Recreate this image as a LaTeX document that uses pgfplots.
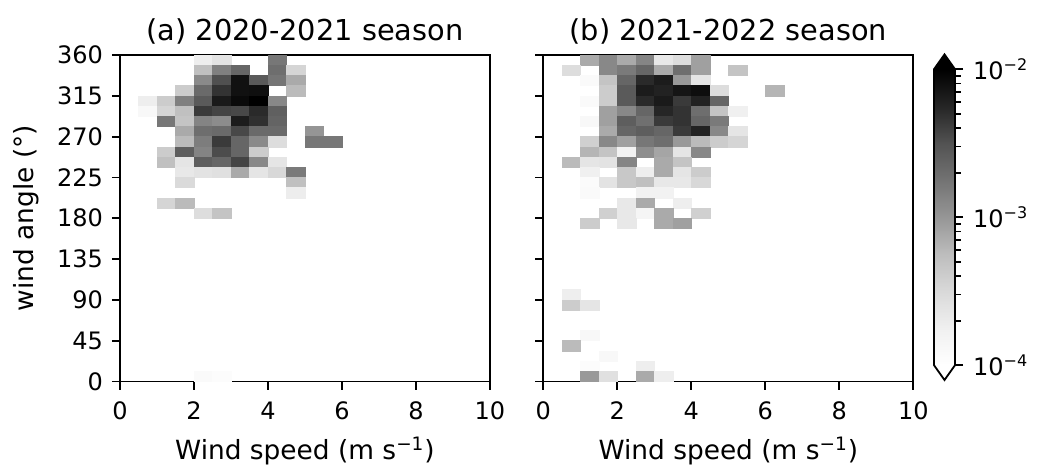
\documentclass[border=0pt]{standalone}
\usepackage{fontspec}
\setmainfont{DejaVu Sans}
\usepackage{pgfplots}
\pgfplotsset{compat=1.18}
\usepackage{pgfplotstable}

\pgfdeclareplotmark{cell}{%
  \pgfpathrectangle{\pgfpoint{-4.625pt}{-2.5508pt}}{\pgfpoint{9.25pt}{5.1016pt}}%
  \pgfusepathqfillstroke}

\definecolor{g0}{RGB}{255,255,255}
\definecolor{g1}{RGB}{240,240,240}
\definecolor{g2}{RGB}{217,217,217}
\definecolor{g3}{RGB}{189,189,189}
\definecolor{g4}{RGB}{150,150,150}
\definecolor{g5}{RGB}{115,115,115}
\definecolor{g6}{RGB}{82,82,82}
\definecolor{g7}{RGB}{37,37,37}
\definecolor{g8}{RGB}{0,0,0}
\pgfdeclareverticalshading{greysbar}{100bp}{color(0bp)=(g0); color(25bp)=(g0); color(31.25bp)=(g1); color(37.5bp)=(g2); color(43.75bp)=(g3); color(50bp)=(g4); color(56.25bp)=(g5); color(62.5bp)=(g6); color(68.75bp)=(g7); color(75bp)=(g8); color(100bp)=(g8)}

% 2020-2021 season: bin centre (wind speed, wind angle) and density
\pgfplotstableread{
x y d
2.25 354.375 1.87e-4
2.75 354.375 2.46e-4
4.25 354.375 1.66e-3
2.25 343.125 5.29e-4
2.75 343.125 1.44e-3
3.25 343.125 2.23e-3
4.25 343.125 1.94e-3
4.75 343.125 3.44e-4
2.25 331.875 1.22e-3
2.75 331.875 3.24e-3
3.25 331.875 7.67e-3
3.75 331.875 2.75e-3
4.25 331.875 1.72e-3
4.75 331.875 7.45e-4
1.75 320.625 4.13e-4
2.25 320.625 2.08e-3
2.75 320.625 4.70e-3
3.25 320.625 7.67e-3
3.75 320.625 7.92e-3
4.75 320.625 5.79e-4
0.75 309.375 1.87e-4
1.25 309.375 4.13e-4
1.75 309.375 1.44e-3
2.25 309.375 2.75e-3
2.75 309.375 6.67e-3
3.25 309.375 8.55e-3
3.75 309.375 1.00e-2
4.25 309.375 1.26e-3
0.75 298.125 1.31e-4
1.25 298.125 3.44e-4
1.75 298.125 5.29e-4
2.25 298.125 4.30e-3
2.75 298.125 3.78e-3
3.25 298.125 3.59e-3
3.75 298.125 5.28e-3
4.25 298.125 2.48e-3
1.25 286.875 1.66e-3
1.75 286.875 4.87e-4
2.25 286.875 1.34e-3
2.75 286.875 1.18e-3
3.25 286.875 6.47e-3
3.75 286.875 4.88e-3
4.25 286.875 2.31e-3
1.75 275.625 7.45e-4
2.25 275.625 1.94e-3
2.75 275.625 2.08e-3
3.25 275.625 3.59e-3
3.75 275.625 2.08e-3
4.25 275.625 2.08e-3
5.25 275.625 1.02e-3
1.75 264.375 5.79e-4
2.25 264.375 1.51e-3
2.75 264.375 4.30e-3
3.25 264.375 2.23e-3
3.75 264.375 1.22e-3
4.25 264.375 2.86e-4
5.25 264.375 1.66e-3
5.75 264.375 1.66e-3
1.25 253.125 4.13e-4
1.75 253.125 2.56e-3
2.25 253.125 1.34e-3
2.75 253.125 3.41e-3
3.25 253.125 2.23e-3
3.75 253.125 4.13e-4
1.25 241.875 5.29e-4
1.75 241.875 2.34e-4
2.25 241.875 2.56e-3
2.75 241.875 2.23e-3
3.25 241.875 3.78e-3
3.75 241.875 1.26e-3
4.25 241.875 2.34e-4
1.75 230.625 2.17e-4
2.25 230.625 2.46e-4
2.75 230.625 2.65e-4
3.25 230.625 7.45e-4
3.75 230.625 2.34e-4
4.25 230.625 3.23e-4
4.75 230.625 1.58e-3
1.75 219.375 3.08e-4
4.75 219.375 5.29e-4
4.75 208.125 1.92e-4
1.25 196.875 3.44e-4
1.75 196.875 5.79e-4
2.25 185.625 2.86e-4
2.75 185.625 4.87e-4
2.25 5.625 1.21e-4
2.75 5.625 1.12e-4
}\dataA

% 2021-2022 season
\pgfplotstableread{
x y d
1.25 354.375 7.45e-4
1.75 354.375 1.26e-3
2.25 354.375 7.45e-4
2.75 354.375 1.32e-3
3.25 354.375 2.17e-4
3.75 354.375 2.86e-4
4.25 354.375 8.63e-4
0.75 343.125 2.86e-4
1.75 343.125 1.26e-3
2.25 343.125 1.58e-3
2.75 343.125 2.23e-3
3.25 343.125 7.45e-4
3.75 343.125 1.94e-3
4.25 343.125 8.63e-4
5.25 343.125 4.87e-4
1.25 331.875 1.21e-4
1.75 331.875 4.87e-4
2.25 331.875 2.23e-3
2.75 331.875 5.28e-3
3.25 331.875 6.47e-3
3.75 331.875 9.57e-4
4.25 331.875 2.34e-4
1.75 320.625 4.13e-4
2.25 320.625 2.75e-3
2.75 320.625 6.47e-3
3.25 320.625 5.89e-3
3.75 320.625 7.21e-3
4.25 320.625 8.04e-3
4.75 320.625 2.86e-4
6.25 320.625 6.33e-4
1.25 309.375 1.21e-4
1.75 309.375 4.13e-4
2.25 309.375 2.75e-3
2.75 309.375 5.28e-3
3.25 309.375 6.67e-3
3.75 309.375 4.30e-3
4.25 309.375 5.89e-3
4.75 309.375 2.23e-3
1.75 298.125 8.63e-4
2.25 298.125 1.26e-3
2.75 298.125 2.23e-3
3.25 298.125 5.55e-3
3.75 298.125 4.70e-3
4.25 298.125 1.94e-3
4.75 298.125 4.87e-4
5.25 298.125 1.78e-4
1.25 286.875 1.31e-4
1.75 286.875 8.63e-4
2.25 286.875 2.56e-3
2.75 286.875 1.87e-3
3.25 286.875 4.30e-3
3.75 286.875 4.70e-3
4.25 286.875 2.23e-3
4.75 286.875 1.58e-3
1.75 275.625 7.45e-4
2.25 275.625 2.23e-3
2.75 275.625 2.56e-3
3.25 275.625 2.23e-3
3.75 275.625 4.30e-3
4.25 275.625 5.89e-3
4.75 275.625 1.26e-3
5.25 275.625 2.34e-4
1.25 264.375 3.80e-4
1.75 264.375 1.26e-3
2.25 264.375 8.63e-4
2.75 264.375 1.66e-3
3.25 264.375 1.94e-3
3.75 264.375 9.57e-4
4.25 264.375 5.79e-4
4.75 264.375 4.13e-4
5.25 264.375 3.44e-4
1.25 253.125 6.33e-4
1.75 253.125 4.87e-4
2.25 253.125 1.65e-4
2.75 253.125 1.14e-3
3.25 253.125 8.02e-4
3.75 253.125 2.34e-4
4.25 253.125 1.26e-3
0.75 241.875 5.79e-4
1.25 241.875 2.34e-4
1.75 241.875 2.46e-4
2.25 241.875 1.32e-3
3.25 241.875 7.45e-4
3.75 241.875 4.87e-4
1.25 230.625 1.78e-4
2.25 230.625 4.49e-4
2.75 230.625 1.87e-4
3.25 230.625 7.45e-4
3.75 230.625 2.34e-4
4.25 230.625 4.13e-4
1.25 219.375 1.17e-4
1.75 219.375 2.46e-4
2.25 219.375 4.49e-4
2.75 219.375 5.29e-4
3.25 219.375 2.17e-4
3.75 219.375 2.17e-4
4.25 219.375 3.23e-4
1.25 208.125 1.21e-4
2.75 208.125 1.65e-4
3.25 208.125 1.65e-4
2.25 196.875 2.17e-4
2.75 196.875 7.45e-4
3.75 196.875 1.87e-4
1.75 185.625 3.80e-4
2.25 185.625 2.17e-4
2.75 185.625 1.47e-4
3.25 185.625 7.45e-4
4.25 185.625 3.80e-4
1.25 174.375 4.13e-4
2.25 174.375 2.17e-4
3.25 174.375 7.45e-4
3.75 174.375 8.63e-4
0.75 95.625 1.87e-4
0.75 84.375 4.13e-4
1.25 84.375 2.34e-4
1.25 50.625 1.31e-4
0.75 39.375 5.79e-4
1.75 28.125 1.31e-4
1.25 16.875 1.12e-4
2.75 16.875 1.87e-4
1.25 5.625 9.57e-4
1.75 5.625 2.65e-4
2.75 5.625 7.45e-4
3.25 5.625 1.87e-4
}\dataB

\pgfplotsset{
  hist/.style={
    colormap={greys}{rgb255=(255,255,255) rgb255=(240,240,240) rgb255=(217,217,217) rgb255=(189,189,189) rgb255=(150,150,150) rgb255=(115,115,115) rgb255=(82,82,82) rgb255=(37,37,37) rgb255=(0,0,0)},
    point meta min=-4, point meta max=-2,
    scale only axis, width=185pt, height=163.25pt,
    xmin=0, xmax=10, ymin=0, ymax=360,
    xtick={0,2,...,10}, ytick={0,45,...,360},
    tick align=outside, xtick pos=bottom, ytick pos=left,
    major tick length=4pt,
    every tick/.style={line width=0.9pt, black},
    axis line style={line width=0.9pt},
    axis on top,
    /pgf/number format/assume math mode=true,
    tick label style={font=\fontsize{12}{14}\selectfont},
    xticklabel style={yshift=-2.75pt},
    yticklabel style={xshift=-1pt},
    every axis title/.style={at={(axis description cs:0.5,1)}, anchor=base, yshift=7.5pt, font=\fontsize{14.4}{17}\selectfont},
    every axis x label/.style={at={(axis description cs:0.5,-0.2374)}, anchor=base, font=\fontsize{13.2}{15}\selectfont},
    every axis y label/.style={at={(axis description cs:-0.2351,0.5)}, anchor=base, rotate=90, font=\fontsize{13.2}{15}\selectfont},
    xlabel={Wind speed (m s\textsuperscript{−1})},
  },
  cells/.style={scatter, only marks, mark=cell,
    scatter/use mapped color={draw=mapped color, fill=mapped color},
    mark options={line width=0.2pt},
    point meta=explicit},
}

\begin{document}
\begin{tikzpicture}
\begin{axis}[hist, at={(0pt,0pt)}, anchor=south west,
  title={(a) 2020-2021 season},
  ylabel={wind angle (°)}]
\addplot[cells] table[x=x, y=y, meta expr={log10(\thisrow{d})}] {\dataA};
\end{axis}
\begin{axis}[hist, at={(211.65pt,0pt)}, anchor=south west,
  title={(b) 2021-2022 season},
  yticklabels={}]
\addplot[cells] table[x=x, y=y, meta expr={log10(\thisrow{d})}] {\dataB};
\end{axis}
% colour bar: log10 of density from -4 to -2
\begin{axis}[at={(407pt,82.15pt)}, anchor=west,
  scale only axis, width=10.5pt, height=148pt,
  xmin=0, xmax=1, ymin=-4, ymax=-2,
  xtick=\empty,
  ytick={-4,-3,-2},
  yticklabels={10\textsuperscript{−4},10\textsuperscript{−3},10\textsuperscript{−2}},
  minor ytick={-3.69897,-3.52288,-3.39794,-3.30103,-3.22185,-3.15490,-3.09691,-3.04576,-2.69897,-2.52288,-2.39794,-2.30103,-2.22185,-2.15490,-2.09691,-2.04576},
  yticklabel pos=right, ytick pos=right,
  tick align=outside,
  major tick length=4pt, minor tick length=2.8pt,
  every tick/.style={line width=0.9pt, black},
  axis line style={draw=none},
  /pgf/number format/assume math mode=true,
  tick label style={font=\fontsize{12}{14}\selectfont},
  yticklabel style={xshift=1.5pt},
  clip=false]
\shade[shading=greysbar] (rel axis cs:0,0) rectangle (rel axis cs:1,1);
\fill[black] (rel axis cs:0,1) -- (rel axis cs:0.5,1.05) -- (rel axis cs:1,1) -- cycle;
\fill[white] (rel axis cs:0,0) -- (rel axis cs:0.5,-0.05) -- (rel axis cs:1,0) -- cycle;
\draw[line width=0.9pt, line join=miter]
  (rel axis cs:0,0) -- (rel axis cs:0,1) -- (rel axis cs:0.5,1.05) -- (rel axis cs:1,1)
  -- (rel axis cs:1,0) -- (rel axis cs:0.5,-0.05) -- cycle;
\end{axis}
\pgfresetboundingbox
\path (-60pt,-42.25pt) rectangle (458.5pt,190.75pt);
\end{tikzpicture}
\end{document}
